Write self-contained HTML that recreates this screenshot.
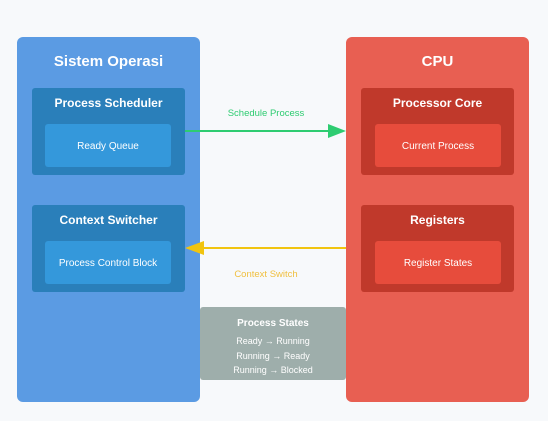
<!DOCTYPE html>
<html><head><style>
body{margin:0;width:548px;height:421px;background:#f7f9fb;position:relative;font-family:"Liberation Sans",sans-serif;overflow:hidden}
div{position:absolute;box-sizing:border-box}
.t{color:#fff;text-align:center;font-weight:bold}
.s{color:#fff;text-align:center;font-size:10px}
</style></head><body>
<div style="left:17px;top:37px;width:183px;height:365px;background:#5b9be3;border-radius:6px"></div>
<div class="t" style="left:17px;top:53px;width:183px;font-size:15px">Sistem Operasi</div>
<div style="left:32px;top:88px;width:153px;height:87px;background:#2a7fba;border-radius:3px"></div>
<div class="t" style="left:32px;top:96px;width:153px;font-size:12px">Process Scheduler</div>
<div style="left:45px;top:124px;width:126px;height:43px;background:#3498db;border-radius:3px"></div>
<div class="s" style="left:45px;top:141px;width:126px">Ready Queue</div>
<div style="left:32px;top:205px;width:153px;height:87px;background:#2a7fba;border-radius:3px"></div>
<div class="t" style="left:32px;top:213px;width:153px;font-size:12px">Context Switcher</div>
<div style="left:45px;top:241px;width:126px;height:43px;background:#3498db;border-radius:3px"></div>
<div class="s" style="left:45px;top:258px;width:126px">Process Control Block</div>

<div style="left:346px;top:37px;width:183px;height:365px;background:#e85f52;border-radius:6px"></div>
<div class="t" style="left:346px;top:53px;width:183px;font-size:15px">CPU</div>
<div style="left:361px;top:88px;width:153px;height:87px;background:#c0392b;border-radius:3px"></div>
<div class="t" style="left:361px;top:96px;width:153px;font-size:12px">Processor Core</div>
<div style="left:375px;top:124px;width:126px;height:43px;background:#e74c3c;border-radius:3px"></div>
<div class="s" style="left:375px;top:141px;width:126px">Current Process</div>
<div style="left:361px;top:205px;width:153px;height:87px;background:#c0392b;border-radius:3px"></div>
<div class="t" style="left:361px;top:213px;width:153px;font-size:12px">Registers</div>
<div style="left:375px;top:241px;width:126px;height:43px;background:#e74c3c;border-radius:3px"></div>
<div class="s" style="left:375px;top:258px;width:126px">Register States</div>

<div style="left:200px;top:307px;width:146px;height:73px;background:#9eaeab;border-radius:3px"></div>
<div class="t" style="left:200px;top:318px;width:146px;font-size:10px">Process States</div>
<div class="s" style="left:200px;top:334px;width:146px;font-size:9px;line-height:14.5px">Ready → Running<br>Running → Ready<br>Running → Blocked</div>

<div style="left:200px;top:108px;width:132px;text-align:center;font-size:9.5px;color:#2ecc71">Schedule Process</div>
<div style="left:200px;top:269px;width:132px;text-align:center;font-size:9.5px;color:#f0c040">Context Switch</div>
<svg style="position:absolute;left:0;top:0" width="548" height="421">
<line x1="185" y1="131" x2="330" y2="131" stroke="#2ecc71" stroke-width="2"/>
<polygon points="346,131 328,124 328,138" fill="#2ecc71"/>
<line x1="346" y1="248" x2="200" y2="248" stroke="#f1c40f" stroke-width="2"/>
<polygon points="185,248 204,241 204,255" fill="#f1c40f"/>
</svg>
</body></html>
